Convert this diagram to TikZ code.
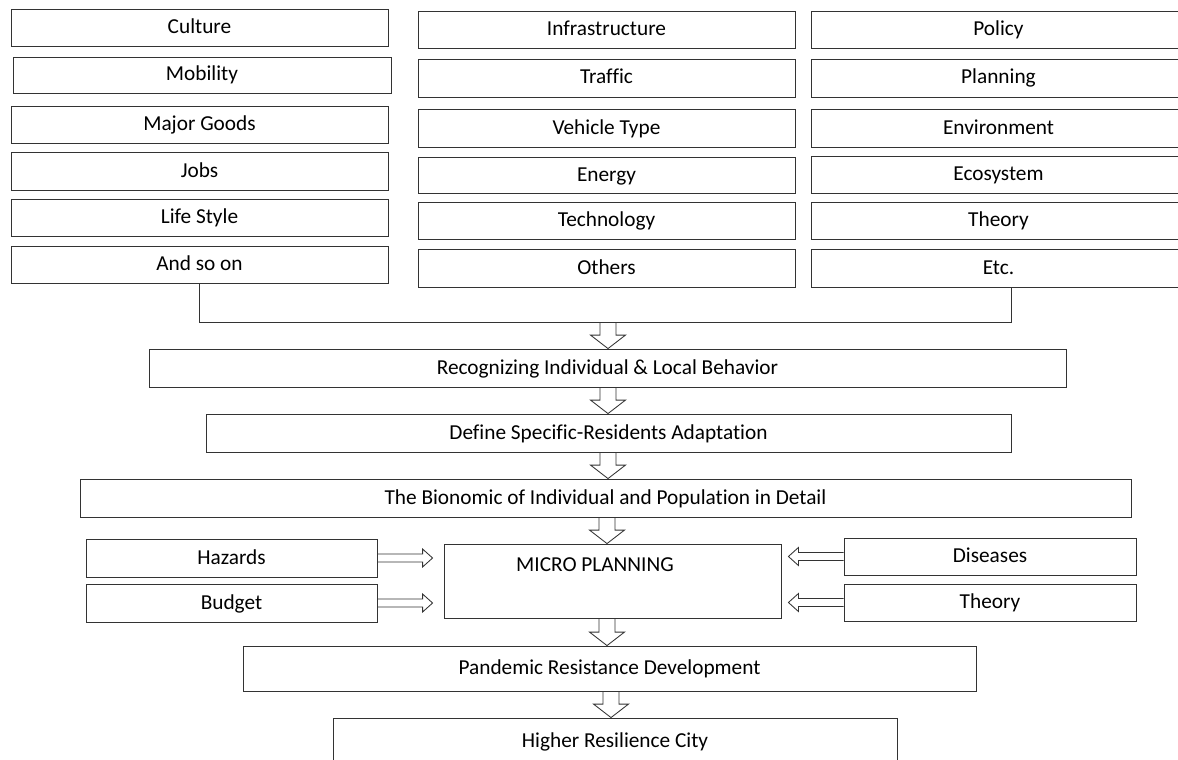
\documentclass[tikz,border=0pt]{standalone}
\usepackage{fontspec}
\setmainfont{Carlito}[Ligatures={NoCommon}]
\usetikzlibrary{calc}
\begin{document}
\begin{tikzpicture}[x=1pt,y=-1pt,
  box/.style={draw=black!80, line width=0.85pt, inner sep=0pt,
    text height=12pt, text depth=0pt,
    font=\fontsize{21.3}{24}\selectfont, text=black},
  wh/.style 2 args={minimum width=#1pt, minimum height=#2pt},
  label text/.style={inner sep=0pt, text height=12pt, text depth=0pt,
    font=\fontsize{21.3}{24}\selectfont, text=black},
  conn/.style={draw=black!80, line width=0.85pt},
  % hollow block arrow pointing down, head drawn at the target
  blockdown/.style={conn, to path={let \p1=(\tikztostart), \p2=(\tikztotarget) in
    (\x1-8pt,\y1) -- (\x1-8pt,\y2+13.5pt) -- (\x1-17.5pt,\y2+13.5pt) -- (\x1,\y2)
    -- (\x1+17.5pt,\y2+13.5pt) -- (\x1+8pt,\y2+13.5pt) -- (\x1+8pt,\y1)}},
  % hollow block arrows pointing right / left
  blockright/.style={conn, to path={let \p1=(\tikztostart), \p2=(\tikztotarget) in
    (\x1,\y1+4pt) -- (\x2-10pt,\y1+4pt) -- (\x2-10pt,\y1+9pt) -- (\x2,\y1)
    -- (\x2-10pt,\y1-9pt) -- (\x2-10pt,\y1-4pt) -- (\x1,\y1-4pt)}},
  blockleft/.style={conn, to path={let \p1=(\tikztostart), \p2=(\tikztotarget) in
    (\x1,\y1+4pt) -- (\x2+10pt,\y1+4pt) -- (\x2+10pt,\y1+9pt) -- (\x2,\y1)
    -- (\x2+10pt,\y1-9pt) -- (\x2+10pt,\y1-4pt) -- (\x1,\y1-4pt)}}]

\useasboundingbox (0,0) rectangle (1178,760);
\fill[white] (0,0) rectangle (1178,760);

% first column of factors
\node[box, wh={377}{37}] (culture)  at (199.5,27.5)  {Culture};
\node[box, wh={378}{36}] (mobility) at (202,75)      {Mobility};
\node[box, wh={377}{37}] (goods)    at (199.5,124.5) {Major Goods};
\node[box, wh={377}{38}] (jobs)     at (199.5,171)   {Jobs};
\node[box, wh={377}{37}] (life)     at (199.5,217.5) {Life Style};
\node[box, wh={377}{37}] (andso)    at (199.5,264.5) {And so on};

% second column of factors
\node[box, wh={377}{37}] (infra)    at (606.5,29.5)  {Infrastructure};
\node[box, wh={377}{38}] (traffic)  at (606.5,78)    {Traffic};
\node[box, wh={377}{38}] (vehicle)  at (606.5,128)   {Vehicle Type};
\node[box, wh={377}{36}] (energy)   at (606.5,175)   {Energy};
\node[box, wh={377}{37}] (tech)     at (606.5,220.5) {Technology};
\node[box, wh={377}{38}] (others)   at (606.5,268)   {Others};

% third column of factors
\node[box, wh={375}{37}] (policy)   at (998.5,29.5)  {Policy};
\node[box, wh={375}{38}] (planning) at (998.5,78)    {Planning};
\node[box, wh={375}{38}] (environ)  at (998.5,128)   {Environment};
\node[box, wh={375}{37}] (ecosys)   at (998.5,174.5) {Ecosystem};
\node[box, wh={375}{37}] (theoryA)  at (998.5,220.5) {Theory};
\node[box, wh={375}{38}] (etc)      at (998.5,268)   {Etc.};

% process chain
\node[box, wh={917}{38}]  (rec)    at (607.5,368) {Recognizing Individual \& Local Behavior};
\node[box, wh={805}{38}]  (def)    at (608.5,433) {Define Specific-Residents Adaptation};
\node[box, wh={1051}{38}] (bio)    at (605.5,498) {The Bionomic of Individual and Population in Detail};
\node[box, wh={337}{74}]  (micro)  at (612.5,581) {};
\node[label text] (microlabel) at (595,565) {MICRO PLANNING};
\node[box, wh={291}{38}]  (haz)    at (231.5,558) {Hazards};
\node[box, wh={291}{38}]  (budget) at (231.5,603) {Budget};
\node[box, wh={292}{37}]  (dis)    at (990,556.5) {Diseases};
\node[box, wh={292}{37}]  (theoryB) at (990,602.5) {Theory};
\node[box, wh={733}{45}]  (pan)    at (609.5,668.5) {Pandemic Resistance Development};
\node[box, wh={564}{47}]  (higher) at (615,741.5) {Higher Resilience City};

% vertical axes of the block arrows
\coordinate (axisA) at (608,0);
\coordinate (axisB) at (607,0);
\coordinate (axisC) at (611,0);

% gathering line below the factor columns
\coordinate (join) at (1011,322);
\draw[conn] (andso.south) |- (join) -- (join |- etc.south);

% downward flow
\draw[blockdown] (join -| axisA) to (rec.north -| axisA);
\draw[blockdown] (rec.south -| axisA) to (def.north -| axisA);
\draw[blockdown] (def.south -| axisA) to (bio.north -| axisA);
\draw[blockdown] (bio.south -| axisB) to (micro.north -| axisB);
\draw[blockdown] (micro.south -| axisB) to (pan.north -| axisB);
\draw[blockdown] (pan.south -| axisC) to (higher.north -| axisC);

% side inputs into micro planning
\draw[blockright] (haz.east) to ([xshift=-11pt]haz.east -| micro.west);
\draw[blockright] (budget.east) to ([xshift=-11pt]budget.east -| micro.west);
\draw[blockleft] (dis.west) to ([xshift=7pt]dis.west -| micro.east);
\draw[blockleft] (theoryB.west) to ([xshift=7pt]theoryB.west -| micro.east);
\end{tikzpicture}
\end{document}
